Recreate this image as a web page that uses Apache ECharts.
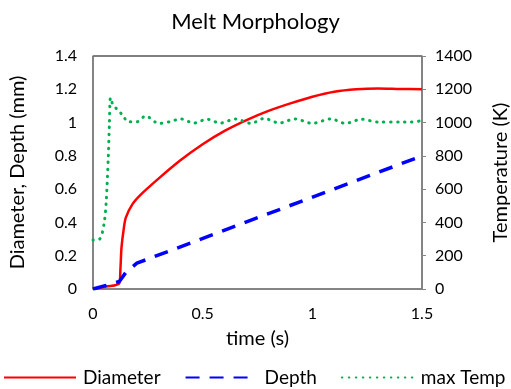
<!DOCTYPE html>
<html>
<head>
<meta charset="UTF-8">
<title>Melt Morphology</title>
<script src="https://cdn.jsdelivr.net/npm/echarts@6.0.0/dist/echarts.min.js"></script>
</head>
<body style="margin:0">
<div id="main" style="width:511px;height:389px;"></div>
<script type="text/javascript">
// time (s) / value pairs
var diaTime = [0, 0.06, 0.12, 0.125, 0.13, 0.14, 0.15, 0.18, 0.22, 0.3, 0.4, 0.5, 0.6, 0.7, 0.8, 0.9, 1.0, 1.1, 1.2, 1.3, 1.4, 1.5];
var diameter = [0, 0.015, 0.035, 0.12, 0.25, 0.36, 0.43, 0.51, 0.57, 0.665, 0.775, 0.87, 0.95, 1.015, 1.07, 1.115, 1.155, 1.185, 1.2, 1.205, 1.202, 1.2];

var depTime = [0, 0.06, 0.12, 0.15, 0.2, 1.5];
var depth = [0, 0.022, 0.045, 0.1, 0.155, 0.8];

var tempTime = [0, 0.03, 0.05, 0.06, 0.07, 0.075, 0.08, 0.09, 0.11, 0.135, 0.16, 0.2, 0.24, 0.3, 0.35, 0.4, 0.46, 0.52, 0.58, 0.65, 0.72, 0.78, 0.85, 0.92, 1.0, 1.085, 1.15, 1.225, 1.3, 1.4, 1.45, 1.5];
var maxTemp = [295, 300, 390, 520, 800, 1000, 1150, 1110, 1080, 1045, 1005, 1005, 1040, 995, 1005, 1022, 997, 1020, 997, 1022, 995, 1025, 997, 1022, 995, 1022, 995, 1020, 1003, 1003, 1003, 1012];

function pairs(xs, ys) {
    var out = [];
    for (var i = 0; i < xs.length; i++) out.push([xs[i], ys[i]]);
    return out;
}

var font = 'Lato';
var myChart = echarts.init(document.getElementById('main'));
var option = {
    animation: false,
    backgroundColor: '#fff',
    textStyle: { fontFamily: font, color: '#000' },
    title: {
        text: 'Melt Morphology',
        left: 'center',
        top: 6,
        textStyle: { fontFamily: font, fontSize: 22, fontWeight: 'normal', color: '#000' }
    },
    grid: {
        left: 93, right: 89, top: 56, bottom: 100,
        outerBoundsMode: 'none',
        containLabel: false,
        show: true, borderColor: '#000', borderWidth: 1
    },
    legend: {
        bottom: 2,
        left: 3,
        width: 508,
        padding: 0,
        itemWidth: 72,
        itemHeight: 12,
        itemGap: 24,
        itemStyle: { opacity: 0 },
        textStyle: { fontFamily: font, fontSize: 19, color: '#000', padding: [0, 0, 0, 2] },
        data: ['Diameter', 'Depth', 'max Temp']
    },
    xAxis: {
        type: 'value',
        min: 0, max: 1.5, interval: 0.5,
        name: 'time (s)',
        nameLocation: 'middle',
        nameGap: 40,
        nameTextStyle: { fontFamily: font, fontSize: 20, color: '#000' },
        axisLine: { show: true, onZero: false, lineStyle: { color: '#868686', width: 1.5 } },
        axisTick: { show: false },
        splitLine: { show: false },
        axisLabel: { fontFamily: font, fontSize: 16, color: '#000', margin: 17 }
    },
    yAxis: [{
        type: 'value',
        min: 0, max: 1.4, interval: 0.2,
        name: 'Diameter, Depth (mm)',
        nameLocation: 'middle',
        nameRotate: 90,
        nameGap: 65,
        nameTextStyle: { fontFamily: font, fontSize: 20, color: '#000' },
        axisLine: { show: true, lineStyle: { color: '#868686', width: 1.5 } },
        axisTick: { show: false },
        splitLine: { show: false },
        axisLabel: { fontFamily: font, fontSize: 16, color: '#000', margin: 16 }
    }, {
        type: 'value',
        position: 'right',
        min: 0, max: 1400, interval: 200,
        name: 'Temperature (K)',
        nameLocation: 'middle',
        nameRotate: 90,
        nameGap: 69,
        nameTextStyle: { fontFamily: font, fontSize: 20, color: '#000' },
        axisLine: { show: true, lineStyle: { color: '#868686', width: 1.5 } },
        axisTick: { show: true, length: 4, lineStyle: { color: '#868686' } },
        splitLine: { show: false },
        axisLabel: {
            fontFamily: font, fontSize: 16, color: '#000', margin: 13,
            formatter: function (v) { return String(v); }
        }
    }],
    series: [{
        name: 'Diameter',
        type: 'line',
        symbol: 'none',
        smooth: 0.3,
        color: '#ff0000',
        lineStyle: { color: '#ff0000', width: 2.5 },
        data: pairs(diaTime, diameter)
    }, {
        name: 'Depth',
        type: 'line',
        symbol: 'none',
        color: '#0000ff',
        lineStyle: { color: '#0000ff', width: 3.5, type: [14, 10] },
        data: pairs(depTime, depth)
    }, {
        name: 'max Temp',
        type: 'line',
        yAxisIndex: 1,
        symbol: 'none',
        smooth: 0.3,
        color: '#00b050',
        lineStyle: { color: '#00b050', width: 3, type: [0.5, 6.5], cap: 'round' },
        data: pairs(tempTime, maxTemp)
    }]
};
myChart.setOption(option);
</script>
</body>
</html>
